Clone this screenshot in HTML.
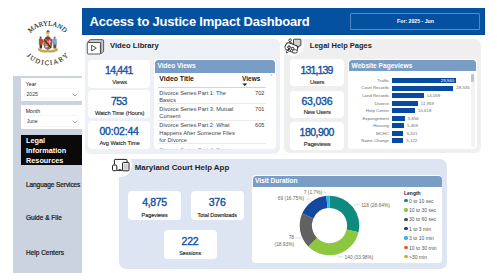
<!DOCTYPE html>
<html><head><meta charset="utf-8"><style>
html,body{margin:0;padding:0;}
body{width:500px;height:280px;position:relative;overflow:hidden;background:#fff;font-family:"Liberation Sans",sans-serif;}
</style></head><body>
<div style="position:absolute;left:13.30px;top:75.90px;width:68.70px;height:197.00px;background:#cbd2e0;"></div>
<div style="position:absolute;left:20.80px;top:77.70px;width:61.20px;height:23.60px;background:#ffffff;"></div>
<div style="position:absolute;left:25.80px;top:82.00px;font:400 5.2px/5.2px 'Liberation Sans', sans-serif;color:#222;white-space:nowrap;">Year</div>
<div style="position:absolute;left:24.60px;top:88.90px;width:53.80px;height:9.60px;background:#fff;box-shadow:0 0 0 0.5px #ececec;border-radius:1px;"></div>
<div style="position:absolute;left:26.60px;top:92.00px;font:400 5px/5px 'Liberation Sans', sans-serif;color:#333;white-space:nowrap;">2025</div>
<svg style="position:absolute;left:71.5px;top:92.5px" width="6" height="4" viewBox="0 0 6 4"><path d="M0.6 0.8 L3 3 L5.4 0.8" fill="none" stroke="#666" stroke-width="0.6"/></svg>
<div style="position:absolute;left:20.80px;top:105.20px;width:61.20px;height:23.50px;background:#ffffff;"></div>
<div style="position:absolute;left:25.70px;top:109.00px;font:400 5.2px/5.2px 'Liberation Sans', sans-serif;color:#222;white-space:nowrap;">Month</div>
<div style="position:absolute;left:24.60px;top:116.00px;width:53.80px;height:9.80px;background:#fff;box-shadow:0 0 0 0.5px #ececec;border-radius:1px;"></div>
<div style="position:absolute;left:26.80px;top:119.00px;font:400 5px/5px 'Liberation Sans', sans-serif;color:#333;white-space:nowrap;">June</div>
<svg style="position:absolute;left:71.5px;top:119.5px" width="6" height="4" viewBox="0 0 6 4"><path d="M0.6 0.8 L3 3 L5.4 0.8" fill="none" stroke="#666" stroke-width="0.6"/></svg>
<div style="position:absolute;left:20.90px;top:134.80px;width:60.70px;height:29.80px;background:#0a0a0a;"></div>
<div style="position:absolute;left:26.00px;top:137.00px;font:700 7.3px/7.3px 'Liberation Sans', sans-serif;color:#fff;white-space:nowrap;">Legal</div>
<div style="position:absolute;left:26.00px;top:147.00px;font:700 7.3px/7.3px 'Liberation Sans', sans-serif;color:#fff;white-space:nowrap;">Information</div>
<div style="position:absolute;left:26.00px;top:157.00px;font:700 7.3px/7.3px 'Liberation Sans', sans-serif;color:#fff;white-space:nowrap;">Resources</div>
<div style="position:absolute;left:26.00px;top:182.00px;font:400 6.5px/6.5px 'Liberation Sans', sans-serif;color:#1a1a1a;white-space:nowrap;letter-spacing:-0.08px;-webkit-text-stroke:0.22px #1a1a1a;">Language Services</div>
<div style="position:absolute;left:26.00px;top:215.00px;font:400 6.5px/6.5px 'Liberation Sans', sans-serif;color:#1a1a1a;white-space:nowrap;-webkit-text-stroke:0.22px #1a1a1a;">Guide &amp; File</div>
<div style="position:absolute;left:26.00px;top:250.00px;font:400 6.5px/6.5px 'Liberation Sans', sans-serif;color:#1a1a1a;white-space:nowrap;-webkit-text-stroke:0.22px #1a1a1a;">Help Centers</div>
<svg style="position:absolute;left:0;top:0" width="100" height="75" viewBox="0 0 100 75">
<defs>
<path id="arcTop" d="M 26.7 61.4 A 24 24 0 0 1 68.3 61.4" />
<path id="arcTop2" d="M 21.3 48.7 A 26.2 26.2 0 0 1 73.7 48.7" />
<path id="arcBot" d="M 22 36.6 A 25.5 25.5 0 0 0 73 36.6" />
</defs>
<text font-family="'Liberation Serif'" font-weight="400" font-size="6.7" fill="#1e1e1e" stroke="#1e1e1e" stroke-width="0.12" text-anchor="middle" dominant-baseline="central"><textPath href="#arcTop2" startOffset="50%" textLength="42.5" lengthAdjust="spacing">MARYLAND</textPath></text>
<text font-family="'Liberation Serif'" font-weight="400" font-size="6.7" fill="#1e1e1e" stroke="#1e1e1e" stroke-width="0.12" text-anchor="middle" dominant-baseline="central"><textPath href="#arcBot" startOffset="50%" textLength="42.5" lengthAdjust="spacing">JUDICIARY</textPath></text>
<g stroke-linejoin="round">
<path d="M38.6 48.6 Q43 51.2 47.8 50.2 Q52.6 51.2 57.2 48.6 L57.4 50.4 Q52.6 53 47.8 52 Q43 53 38.4 50.4 Z" fill="#dcb23a" stroke="#7a5a10" stroke-width="0.35"/>
<path d="M46.4 31.2 L47.6 30.2 L49.4 30.6 L49.6 32 L47.4 32.6 Z" fill="#2c5aa8"/>
<path d="M45.6 32.2 L49.8 31.8 L49.2 33.2 L46 33.4 Z" fill="#e2b22c"/>
<rect x="47" y="33.2" width="1.6" height="3.2" fill="#ece6d6" stroke="#444" stroke-width="0.3"/>
<path d="M45 39.4 Q45 36.6 47.8 36.4 Q50.6 36.6 50.6 39.4 Z" fill="#b8242a" stroke="#444" stroke-width="0.3"/>
<path d="M44 39.3 L51.6 39.3 L51.6 44.8 Q51.6 48.6 47.8 49.4 Q44 48.6 44 44.8 Z" fill="#efe6c8" stroke="#333" stroke-width="0.4"/>
<path d="M44.2 39.5 L47.8 39.5 L47.8 44.3 L44.2 44.3 Z" fill="#c9a232"/>
<path d="M45 39.5 L45 44.3 M46.2 39.5 L46.2 44.3 M47.2 39.5 L47.2 44.3" stroke="#222" stroke-width="0.4"/>
<path d="M47.8 44.3 L51.4 44.3 L51.4 44.8 Q51.4 48.2 47.8 49.1 Z" fill="#c9a232"/>
<path d="M48.6 44.3 L48.6 48.9 M49.8 44.3 L49.8 48.3 M50.8 44.3 L50.8 47.2" stroke="#222" stroke-width="0.4"/>
<path d="M47.8 39.5 L51.4 39.5 L51.4 44.3 L47.8 44.3 Z" fill="#d24050"/>
<path d="M49.6 39.5 L49.6 44.3 M47.8 41.9 L51.4 41.9" stroke="#fff" stroke-width="0.6"/>
<path d="M44.2 44.3 L47.8 44.3 L47.8 49.1 Q44.2 48.2 44.2 44.8 Z" fill="#d24050"/>
<path d="M46 44.3 L46 48.6 M44.2 46.6 L47.8 46.6" stroke="#fff" stroke-width="0.6"/>
<path d="M44.4 40 L51.2 48" stroke="#2a1a10" stroke-width="1.1" opacity="0.85"/>
<path d="M44 39.3 L51.6 39.3 L51.6 44.8 Q51.6 48.6 47.8 49.4 Q44 48.6 44 44.8 Z" fill="none" stroke="#333" stroke-width="0.5"/>
<circle cx="40.6" cy="37.6" r="1.05" fill="#6a3a22"/>
<path d="M39.1 39 Q40.6 38.4 42.2 39 L43.6 41.8 L42.6 42.4 L42.3 44.6 L39.2 44.6 Z" fill="#c0461c" stroke="#5a2a10" stroke-width="0.3"/>
<path d="M39.5 44.6 L42.2 44.6 L42 48.4 L39.7 48.4 Z" fill="#4a3626"/>
<circle cx="54.6" cy="37.6" r="1.05" fill="#8a6446"/>
<path d="M52.9 39 Q54.6 38.4 56.3 39 L56.6 44.4 L53.1 44.4 L52.6 42.2 L51.9 41.4 Z" fill="#7aa8d8" stroke="#3a5a80" stroke-width="0.3"/>
<path d="M53.2 44.4 L56.4 44.4 L56.2 48.4 L53.4 48.4 Z" fill="#6e5234"/>
</g>
</svg>
<div style="position:absolute;left:82.00px;top:7.70px;width:403.00px;height:26.90px;background:#0451a0;box-shadow:inset -0.6px -0.6px 0 #033f80;"></div>
<div style="position:absolute;left:350.20px;top:12.50px;width:129.80px;height:17.00px;background:transparent;box-shadow:inset 0 0 0 0.9px #5f8bcb;border-radius:1.5px;"></div>
<div style="position:absolute;left:89.50px;top:15.00px;font:700 13px/13px 'Liberation Sans', sans-serif;color:#fff;white-space:nowrap;letter-spacing:-0.2px;">Access to Justice Impact Dashboard</div>
<div style="position:absolute;left:265.50px;width:300px;text-align:center;top:19.00px;font:700 5.2px/5.2px 'Liberation Sans', sans-serif;color:#fff;white-space:nowrap;">For: 2025 - Jun</div>
<div style="position:absolute;left:84.80px;top:38.60px;width:194.80px;height:115.00px;background:#edf1f6;border-radius:6px;"></div>
<svg style="position:absolute;left:85px;top:37px" width="22" height="19" viewBox="0 0 22 19">
<path d="M2.6 5.6 Q4 3 5.6 2.6 L17.2 2.6 Q18.6 2.8 18.6 4 L18.6 14 Q18.4 15.6 15.4 16.8 L15.4 5.6 Z" fill="#cfcfcf" stroke="#333" stroke-width="0.75" stroke-linejoin="round"/>
<path d="M16.6 3.2 L16.6 15.4 M5.6 2.6 Q4.6 4 4.4 5.6" fill="none" stroke="#777" stroke-width="0.45"/>
<rect x="2.3" y="5.5" width="13.1" height="11.5" rx="0.9" fill="#fff" stroke="#333" stroke-width="0.8"/>
<path d="M6.6 8.3 L11.3 11.1 L6.6 13.9 Z" fill="none" stroke="#333" stroke-width="0.85" stroke-linejoin="round"/>
</svg>
<div style="position:absolute;left:109.90px;top:42.00px;font:700 7.7px/7.7px 'Liberation Sans', sans-serif;color:#1e1e1e;white-space:nowrap;">Video Library</div>
<div style="position:absolute;left:88.00px;top:59.50px;width:62.40px;height:28.20px;background:#fff;border-radius:4px;"></div>
<div style="position:absolute;left:-31.18px;width:300px;text-align:center;top:65.00px;font:400 10.5px/10.5px 'Liberation Sans', sans-serif;color:#14529f;white-space:nowrap;letter-spacing:-0.76px;-webkit-text-stroke:0.38px #14529f;">14,441</div>
<div style="position:absolute;left:-30.40px;width:300px;text-align:center;top:80.00px;font:400 5.7px/5.7px 'Liberation Sans', sans-serif;color:#252525;white-space:nowrap;letter-spacing:-0.05px;-webkit-text-stroke:0.12px #252525;">Views</div>
<div style="position:absolute;left:88.00px;top:90.00px;width:62.40px;height:28.00px;background:#fff;border-radius:4px;"></div>
<div style="position:absolute;left:-31.05px;width:300px;text-align:center;top:96.00px;font:400 10.5px/10.5px 'Liberation Sans', sans-serif;color:#14529f;white-space:nowrap;letter-spacing:-0.5px;-webkit-text-stroke:0.38px #14529f;">753</div>
<div style="position:absolute;left:-30.40px;width:300px;text-align:center;top:111.00px;font:400 5.7px/5.7px 'Liberation Sans', sans-serif;color:#252525;white-space:nowrap;letter-spacing:-0.05px;-webkit-text-stroke:0.12px #252525;">Watch Time (Hours)</div>
<div style="position:absolute;left:88.00px;top:121.00px;width:62.40px;height:27.50px;background:#fff;border-radius:4px;"></div>
<div style="position:absolute;left:-30.90px;width:300px;text-align:center;top:126.00px;font:400 10.5px/10.5px 'Liberation Sans', sans-serif;color:#14529f;white-space:nowrap;letter-spacing:-0.2px;-webkit-text-stroke:0.38px #14529f;">00:02:44</div>
<div style="position:absolute;left:-30.40px;width:300px;text-align:center;top:141.00px;font:400 5.7px/5.7px 'Liberation Sans', sans-serif;color:#252525;white-space:nowrap;letter-spacing:-0.05px;-webkit-text-stroke:0.12px #252525;">Avg Watch Time</div>
<div style="position:absolute;left:153.90px;top:58.50px;width:121.70px;height:90.10px;background:#fff;border-radius:4px;overflow:hidden;"></div>
<div style="position:absolute;left:154.80px;top:59.60px;width:119.90px;height:13.40px;background:#799dc5;border-radius:3.5px 3.5px 0 0;"></div>
<div style="position:absolute;left:157.40px;top:63.00px;font:700 6.6px/6.6px 'Liberation Sans', sans-serif;color:#fff;white-space:nowrap;">Video Views</div>
<div style="position:absolute;left:159.30px;top:76.00px;font:700 6.9px/6.9px 'Liberation Sans', sans-serif;color:#1a1a1a;white-space:nowrap;">Video Title</div>
<div style="position:absolute;right:239.70px;text-align:right;top:76.00px;font:700 6.5px/6.5px 'Liberation Sans', sans-serif;color:#1a1a1a;white-space:nowrap;">Views</div>
<svg style="position:absolute;left:242px;top:83px" width="6" height="4" viewBox="0 0 6 4"><path d="M0.4 0.6 L5.2 0.6 L2.8 3.1 Z" fill="#1a1a1a"/></svg>
<svg style="position:absolute;left:270px;top:73px" width="3" height="4" viewBox="0 0 3 4"><path d="M0.6 2.6 L1.5 1.2 L2.4 2.6 Z" fill="#999"/></svg>
<div style="position:absolute;left:158.00px;top:86.80px;width:107.70px;height:0.60px;background:#d4d4d4;"></div>
<div style="position:absolute;left:159.30px;top:91.00px;font:400 5.7px/5.7px 'Liberation Sans', sans-serif;color:#444;white-space:nowrap;">Divorce Series Part 1: The</div>
<div style="position:absolute;left:159.30px;top:98.00px;font:400 5.7px/5.7px 'Liberation Sans', sans-serif;color:#444;white-space:nowrap;">Basics</div>
<div style="position:absolute;right:235.50px;text-align:right;top:91.00px;font:400 5.7px/5.7px 'Liberation Sans', sans-serif;color:#444;white-space:nowrap;">702</div>
<div style="position:absolute;left:158.00px;top:103.20px;width:107.70px;height:0.60px;background:#ebebeb;"></div>
<div style="position:absolute;left:159.30px;top:107.00px;font:400 5.7px/5.7px 'Liberation Sans', sans-serif;color:#444;white-space:nowrap;">Divorce Series Part 3: Mutual</div>
<div style="position:absolute;left:159.30px;top:114.00px;font:400 5.7px/5.7px 'Liberation Sans', sans-serif;color:#444;white-space:nowrap;">Consent</div>
<div style="position:absolute;right:235.50px;text-align:right;top:107.00px;font:400 5.7px/5.7px 'Liberation Sans', sans-serif;color:#444;white-space:nowrap;">701</div>
<div style="position:absolute;left:158.00px;top:119.50px;width:107.70px;height:0.60px;background:#ebebeb;"></div>
<div style="position:absolute;left:159.30px;top:123.00px;font:400 5.7px/5.7px 'Liberation Sans', sans-serif;color:#444;white-space:nowrap;">Divorce Series Part 2: What</div>
<div style="position:absolute;left:159.30px;top:131.00px;font:400 5.7px/5.7px 'Liberation Sans', sans-serif;color:#444;white-space:nowrap;">Happens After Someone Files</div>
<div style="position:absolute;left:159.30px;top:138.00px;font:400 5.7px/5.7px 'Liberation Sans', sans-serif;color:#444;white-space:nowrap;">for Divorce</div>
<div style="position:absolute;right:235.50px;text-align:right;top:123.00px;font:400 5.7px/5.7px 'Liberation Sans', sans-serif;color:#444;white-space:nowrap;">605</div>
<div style="position:absolute;left:158.00px;top:143.10px;width:107.70px;height:0.60px;background:#ebebeb;"></div>
<div style="position:absolute;left:159.30px;top:148.00px;font:400 5.7px/5.7px 'Liberation Sans', sans-serif;color:#999;white-space:nowrap;clip-path:inset(0 0 4.5px 0);">Divorce Series Part 4: Steps</div>
<div style="position:absolute;left:284.20px;top:38.50px;width:197.10px;height:114.90px;background:#efefef;border-radius:6px;"></div>
<div style="position:absolute;left:282.30px;top:35.00px;width:21.40px;height:21.40px;background:#fff;border-radius:50%;"></div>
<svg style="position:absolute;left:283px;top:36px" width="20" height="19" viewBox="0 0 20 19">
<path d="M11.4 3.2 L17 3.2 Q17.9 3.2 17.9 4.1 L17.9 9 Q17.9 9.9 17 9.9 L16 9.9 L15.3 11.4 L14.2 9.9 L11.4 9.9 Q10.5 9.9 10.5 9 L10.5 4.1 Q10.5 3.2 11.4 3.2 Z" fill="#d2d2d2" stroke="#222" stroke-width="0.85" stroke-linejoin="round"/>
<circle cx="7.1" cy="4.2" r="1.35" fill="#fff" stroke="#222" stroke-width="0.8"/>
<path d="M6 6.2 Q8.2 6 9.6 7.6" fill="none" stroke="#222" stroke-width="0.8"/>
<rect x="2" y="8" width="12.6" height="7.6" rx="3.2" transform="rotate(22 8.4 11.8)" fill="#fff" stroke="#222" stroke-width="0.9"/>
<path d="M3.2 14.6 L3.6 17 L5.6 15.8" fill="#fff" stroke="#222" stroke-width="0.8" stroke-linejoin="round"/>
<circle cx="6" cy="11.2" r="1.3" fill="none" stroke="#111" stroke-width="1"/>
<circle cx="9.6" cy="12.6" r="1.3" fill="none" stroke="#111" stroke-width="1"/>
<path d="M4.2 13.8 Q6.5 12.6 8 14.6" fill="none" stroke="#111" stroke-width="0.9"/>
<rect x="9.6" y="13.8" width="4.6" height="3.2" rx="1.3" fill="#fff" stroke="#222" stroke-width="0.8"/>
</svg>
<div style="position:absolute;left:309.80px;top:42.00px;font:700 7.5px/7.5px 'Liberation Sans', sans-serif;color:#1e1e1e;white-space:nowrap;">Legal Help Pages</div>
<div style="position:absolute;left:289.50px;top:59.30px;width:54.80px;height:27.10px;background:#fff;border-radius:4px;"></div>
<div style="position:absolute;left:166.57px;width:300px;text-align:center;top:65.00px;font:400 10.5px/10.5px 'Liberation Sans', sans-serif;color:#14529f;white-space:nowrap;letter-spacing:-0.85px;-webkit-text-stroke:0.38px #14529f;">131,139</div>
<div style="position:absolute;left:167.20px;width:300px;text-align:center;top:80.00px;font:400 5.9px/5.9px 'Liberation Sans', sans-serif;color:#252525;white-space:nowrap;letter-spacing:-0.2px;-webkit-text-stroke:0.12px #252525;">Users</div>
<div style="position:absolute;left:289.50px;top:90.50px;width:54.80px;height:27.00px;background:#fff;border-radius:4px;"></div>
<div style="position:absolute;left:166.90px;width:300px;text-align:center;top:96.00px;font:400 10.5px/10.5px 'Liberation Sans', sans-serif;color:#14529f;white-space:nowrap;letter-spacing:-0.2px;-webkit-text-stroke:0.38px #14529f;">63,036</div>
<div style="position:absolute;left:167.20px;width:300px;text-align:center;top:110.00px;font:400 5.9px/5.9px 'Liberation Sans', sans-serif;color:#252525;white-space:nowrap;letter-spacing:-0.2px;-webkit-text-stroke:0.12px #252525;">New Users</div>
<div style="position:absolute;left:289.50px;top:122.00px;width:54.80px;height:27.50px;background:#fff;border-radius:4px;"></div>
<div style="position:absolute;left:166.74px;width:300px;text-align:center;top:127.00px;font:400 10.5px/10.5px 'Liberation Sans', sans-serif;color:#14529f;white-space:nowrap;letter-spacing:-0.53px;-webkit-text-stroke:0.38px #14529f;">180,900</div>
<div style="position:absolute;left:167.20px;width:300px;text-align:center;top:142.00px;font:400 5.9px/5.9px 'Liberation Sans', sans-serif;color:#252525;white-space:nowrap;letter-spacing:-0.2px;-webkit-text-stroke:0.12px #252525;">Pageviews</div>
<div style="position:absolute;left:348.10px;top:58.50px;width:128.50px;height:90.40px;background:#fff;border-radius:4px;"></div>
<div style="position:absolute;left:348.90px;top:59.60px;width:126.90px;height:11.50px;background:#799dc5;border-radius:3.5px 3.5px 0 0;"></div>
<div style="position:absolute;left:351.60px;top:63.00px;font:700 6.6px/6.6px 'Liberation Sans', sans-serif;color:#fff;white-space:nowrap;">Website Pageviews</div>
<div style="position:absolute;left:471.00px;top:73.50px;width:3.50px;height:73.50px;background:#f3f3f3;"></div>
<div style="position:absolute;left:471.00px;top:74.30px;width:3.30px;height:7.80px;background:#c4c4c4;border-radius:1px;"></div>
<div style="position:absolute;left:392.30px;top:78.10px;width:64.00px;height:4.90px;background:#064b9f;"></div>
<div style="position:absolute;right:111.00px;text-align:right;top:79.00px;font:400 4.3px/4.3px 'Liberation Sans', sans-serif;color:#6a6a6a;white-space:nowrap;">Traffic</div>
<div style="position:absolute;right:45.80px;text-align:right;top:79.00px;font:400 4.4px/4.4px 'Liberation Sans', sans-serif;color:#fff;white-space:nowrap;">29,940</div>
<div style="position:absolute;left:392.30px;top:85.64px;width:61.00px;height:4.90px;background:#064b9f;"></div>
<div style="position:absolute;right:111.00px;text-align:right;top:86.00px;font:400 4.3px/4.3px 'Liberation Sans', sans-serif;color:#6a6a6a;white-space:nowrap;">Court Records</div>
<div style="position:absolute;left:456.30px;top:86.00px;font:400 4.4px/4.4px 'Liberation Sans', sans-serif;color:#707070;white-space:nowrap;">28,535</div>
<div style="position:absolute;left:392.30px;top:93.18px;width:31.50px;height:4.90px;background:#064b9f;"></div>
<div style="position:absolute;right:111.00px;text-align:right;top:94.00px;font:400 4.3px/4.3px 'Liberation Sans', sans-serif;color:#6a6a6a;white-space:nowrap;">Land Records</div>
<div style="position:absolute;left:426.80px;top:94.00px;font:400 4.4px/4.4px 'Liberation Sans', sans-serif;color:#707070;white-space:nowrap;">14,059</div>
<div style="position:absolute;left:392.30px;top:100.72px;width:25.56px;height:4.90px;background:#064b9f;"></div>
<div style="position:absolute;right:111.00px;text-align:right;top:102.00px;font:400 4.3px/4.3px 'Liberation Sans', sans-serif;color:#6a6a6a;white-space:nowrap;">Divorce</div>
<div style="position:absolute;left:420.86px;top:102.00px;font:400 4.4px/4.4px 'Liberation Sans', sans-serif;color:#707070;white-space:nowrap;">11,959</div>
<div style="position:absolute;left:392.30px;top:108.26px;width:22.70px;height:4.90px;background:#064b9f;"></div>
<div style="position:absolute;right:111.00px;text-align:right;top:109.00px;font:400 4.3px/4.3px 'Liberation Sans', sans-serif;color:#6a6a6a;white-space:nowrap;">Help Center</div>
<div style="position:absolute;left:418.00px;top:109.00px;font:400 4.4px/4.4px 'Liberation Sans', sans-serif;color:#707070;white-space:nowrap;">10,618</div>
<div style="position:absolute;left:392.30px;top:115.80px;width:12.52px;height:4.90px;background:#064b9f;"></div>
<div style="position:absolute;right:111.00px;text-align:right;top:117.00px;font:400 4.3px/4.3px 'Liberation Sans', sans-serif;color:#6a6a6a;white-space:nowrap;">Expungement</div>
<div style="position:absolute;left:407.82px;top:117.00px;font:400 4.4px/4.4px 'Liberation Sans', sans-serif;color:#707070;white-space:nowrap;">5,856</div>
<div style="position:absolute;left:392.30px;top:123.34px;width:11.67px;height:4.90px;background:#064b9f;"></div>
<div style="position:absolute;right:111.00px;text-align:right;top:124.00px;font:400 4.3px/4.3px 'Liberation Sans', sans-serif;color:#6a6a6a;white-space:nowrap;">Housing</div>
<div style="position:absolute;left:406.97px;top:124.00px;font:400 4.4px/4.4px 'Liberation Sans', sans-serif;color:#707070;white-space:nowrap;">5,459</div>
<div style="position:absolute;left:392.30px;top:130.88px;width:11.12px;height:4.90px;background:#064b9f;"></div>
<div style="position:absolute;right:111.00px;text-align:right;top:132.00px;font:400 4.3px/4.3px 'Liberation Sans', sans-serif;color:#6a6a6a;white-space:nowrap;">MCHC</div>
<div style="position:absolute;left:406.42px;top:132.00px;font:400 4.4px/4.4px 'Liberation Sans', sans-serif;color:#707070;white-space:nowrap;">5,201</div>
<div style="position:absolute;left:392.30px;top:138.42px;width:10.95px;height:4.90px;background:#064b9f;"></div>
<div style="position:absolute;right:111.00px;text-align:right;top:139.00px;font:400 4.3px/4.3px 'Liberation Sans', sans-serif;color:#6a6a6a;white-space:nowrap;">Name Change</div>
<div style="position:absolute;left:406.25px;top:139.00px;font:400 4.4px/4.4px 'Liberation Sans', sans-serif;color:#707070;white-space:nowrap;">5,122</div>
<div style="position:absolute;left:119.10px;top:158.70px;width:327.70px;height:109.90px;background:#dee5f2;border-radius:7px;"></div>
<div style="position:absolute;left:108.00px;top:152.50px;width:24.00px;height:24.00px;background:#fff;border-radius:50%;"></div>
<div style="position:absolute;left:106.00px;top:148.60px;width:28.00px;height:5.00px;background:#edf1f6;"></div>
<svg style="position:absolute;left:111px;top:158px" width="20" height="14" viewBox="0 0 20 14">
<path d="M3.4 6.6 L3.4 2.2 Q3.4 1.4 4.2 1.4 L15.2 1.4 Q16 1.4 16 2.2 L16 4.2" fill="none" stroke="#111" stroke-width="0.95"/>
<rect x="11.6" y="4.4" width="6.4" height="8.4" rx="0.8" fill="#fff" stroke="#111" stroke-width="0.95"/>
<rect x="12.8" y="5.6" width="4" height="6" fill="#cfcfcf"/>
<rect x="1.5" y="7.1" width="4.3" height="5.6" rx="1" fill="#fff" stroke="#111" stroke-width="0.95"/>
<path d="M5.8 12.3 L11.6 12.3" stroke="#111" stroke-width="1"/>
<rect x="7.8" y="11.2" width="2" height="1.6" fill="#333"/>
</svg>
<div style="position:absolute;left:134.80px;top:164.00px;font:700 7.9px/7.9px 'Liberation Sans', sans-serif;color:#1e1e1e;white-space:nowrap;">Maryland Court Help App</div>
<div style="position:absolute;left:127.80px;top:191.20px;width:53.70px;height:28.80px;background:#fff;border-radius:4px;"></div>
<div style="position:absolute;left:4.49px;width:300px;text-align:center;top:197.00px;font:400 10.5px/10.5px 'Liberation Sans', sans-serif;color:#14529f;white-space:nowrap;letter-spacing:-0.32px;-webkit-text-stroke:0.38px #14529f;">4,875</div>
<div style="position:absolute;left:4.65px;width:300px;text-align:center;top:213.00px;font:400 5.4px/5.4px 'Liberation Sans', sans-serif;color:#252525;white-space:nowrap;-webkit-text-stroke:0.15px #252525;">Pageviews</div>
<div style="position:absolute;left:190.50px;top:191.20px;width:53.50px;height:28.80px;background:#fff;border-radius:4px;"></div>
<div style="position:absolute;left:67.15px;width:300px;text-align:center;top:197.00px;font:400 10.5px/10.5px 'Liberation Sans', sans-serif;color:#14529f;white-space:nowrap;letter-spacing:-0.2px;-webkit-text-stroke:0.38px #14529f;">376</div>
<div style="position:absolute;left:67.25px;width:300px;text-align:center;top:213.00px;font:400 5.4px/5.4px 'Liberation Sans', sans-serif;color:#252525;white-space:nowrap;-webkit-text-stroke:0.15px #252525;">Total Downloads</div>
<div style="position:absolute;left:163.60px;top:229.60px;width:53.10px;height:29.00px;background:#fff;border-radius:4px;"></div>
<div style="position:absolute;left:40.05px;width:300px;text-align:center;top:236.00px;font:400 10.5px/10.5px 'Liberation Sans', sans-serif;color:#14529f;white-space:nowrap;letter-spacing:-0.2px;-webkit-text-stroke:0.38px #14529f;">222</div>
<div style="position:absolute;left:40.15px;width:300px;text-align:center;top:251.00px;font:400 5.4px/5.4px 'Liberation Sans', sans-serif;color:#252525;white-space:nowrap;-webkit-text-stroke:0.15px #252525;">Sessions</div>
<div style="position:absolute;left:252.20px;top:174.90px;width:190.10px;height:88.00px;background:#fff;border-radius:4px;"></div>
<div style="position:absolute;left:253.00px;top:175.80px;width:188.50px;height:10.80px;background:#799dc5;border-radius:3.5px 3.5px 0 0;"></div>
<div style="position:absolute;left:254.90px;top:178.00px;font:700 6.6px/6.6px 'Liberation Sans', sans-serif;color:#fff;white-space:nowrap;">Visit Duration</div>
<svg style="position:absolute;left:0;top:0" width="500" height="280" viewBox="0 0 500 280"><path d="M329.50 195.70 A29.8 29.8 0 0 1 358.52 232.26 L346.64 229.49 A17.6 17.6 0 0 0 329.50 207.90 Z" fill="#0f8a7e"/><path d="M358.52 232.26 A29.8 29.8 0 0 1 308.27 246.41 L316.96 237.85 A17.6 17.6 0 0 0 346.64 229.49 Z" fill="#8dc63f"/><path d="M308.27 246.41 A29.8 29.8 0 0 1 302.19 213.57 L313.37 218.46 A17.6 17.6 0 0 0 316.96 237.85 Z" fill="#616161"/><path d="M302.19 213.57 A29.8 29.8 0 0 1 326.32 195.87 L327.62 208.00 A17.6 17.6 0 0 0 313.37 218.46 Z" fill="#1447a0"/><path d="M326.32 195.87 A29.8 29.8 0 0 1 329.50 195.70 L329.50 207.90 A17.6 17.6 0 0 0 327.62 208.00 Z" fill="#29b5ef"/><path d="M353.8 205.7 L356 204.3 L359.6 204.3" fill="none" stroke="#bbb" stroke-width="0.5"/><path d="M337.4 255.2 L339 257 L343.4 257" fill="none" stroke="#bbb" stroke-width="0.5"/><path d="M295.2 238 L300 238 L302 236.5" fill="none" stroke="#bbb" stroke-width="0.5"/><path d="M305.7 199 L309 199 L310.5 200.5" fill="none" stroke="#bbb" stroke-width="0.5"/><path d="M322.8 192 L325 192 L326.5 194" fill="none" stroke="#bbb" stroke-width="0.5"/></svg>
<div style="position:absolute;left:361.30px;top:204.00px;font:400 4.8px/4.8px 'Liberation Sans', sans-serif;color:#666;white-space:nowrap;">118 (28.64%)</div>
<div style="position:absolute;left:344.60px;top:256.00px;font:400 4.8px/4.8px 'Liberation Sans', sans-serif;color:#666;white-space:nowrap;">140 (33.98%)</div>
<div style="position:absolute;right:206.00px;text-align:right;top:236.00px;font:400 4.8px/4.8px 'Liberation Sans', sans-serif;color:#666;white-space:nowrap;">78</div>
<div style="position:absolute;right:206.00px;text-align:right;top:243.00px;font:400 4.8px/4.8px 'Liberation Sans', sans-serif;color:#666;white-space:nowrap;">(18.93%)</div>
<div style="position:absolute;right:196.00px;text-align:right;top:197.00px;font:400 4.8px/4.8px 'Liberation Sans', sans-serif;color:#666;white-space:nowrap;">69 (16.75%)</div>
<div style="position:absolute;right:178.00px;text-align:right;top:191.00px;font:400 4.8px/4.8px 'Liberation Sans', sans-serif;color:#666;white-space:nowrap;">7 (1.7%)</div>
<div style="position:absolute;left:404.00px;top:191.00px;font:700 5px/5px 'Liberation Sans', sans-serif;color:#252525;white-space:nowrap;">Length</div>
<div style="position:absolute;left:404.30px;top:198.95px;width:3.30px;height:3.30px;background:#148a7f;border-radius:50%;"></div>
<div style="position:absolute;left:409.00px;top:199.00px;font:400 5px/5px 'Liberation Sans', sans-serif;color:#555;white-space:nowrap;">0 to 10 sec</div>
<div style="position:absolute;left:404.30px;top:208.30px;width:3.30px;height:3.30px;background:#8dc63f;border-radius:50%;"></div>
<div style="position:absolute;left:409.00px;top:208.00px;font:400 5px/5px 'Liberation Sans', sans-serif;color:#555;white-space:nowrap;">10 to 30 sec</div>
<div style="position:absolute;left:404.30px;top:217.65px;width:3.30px;height:3.30px;background:#4a4a4a;border-radius:50%;"></div>
<div style="position:absolute;left:409.00px;top:217.00px;font:400 5px/5px 'Liberation Sans', sans-serif;color:#555;white-space:nowrap;">30 to 60 sec</div>
<div style="position:absolute;left:404.30px;top:227.00px;width:3.30px;height:3.30px;background:#12398a;border-radius:50%;"></div>
<div style="position:absolute;left:409.00px;top:227.00px;font:400 5px/5px 'Liberation Sans', sans-serif;color:#555;white-space:nowrap;">1 to 3 min</div>
<div style="position:absolute;left:404.30px;top:236.35px;width:3.30px;height:3.30px;background:#29b5ef;border-radius:50%;"></div>
<div style="position:absolute;left:409.00px;top:236.00px;font:400 5px/5px 'Liberation Sans', sans-serif;color:#555;white-space:nowrap;">3 to 10 min</div>
<div style="position:absolute;left:404.30px;top:245.70px;width:3.30px;height:3.30px;background:#f0561e;border-radius:50%;"></div>
<div style="position:absolute;left:409.00px;top:246.00px;font:400 5px/5px 'Liberation Sans', sans-serif;color:#555;white-space:nowrap;">10 to 30 min</div>
<div style="position:absolute;left:404.30px;top:255.05px;width:3.30px;height:3.30px;background:#f5a01a;border-radius:50%;"></div>
<div style="position:absolute;left:409.00px;top:255.00px;font:400 5px/5px 'Liberation Sans', sans-serif;color:#555;white-space:nowrap;">&gt;30 min</div>
</body></html>
